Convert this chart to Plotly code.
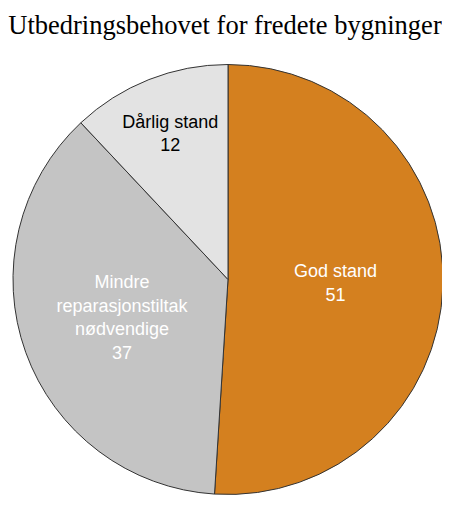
import plotly.graph_objects as go

# Utbedringsbehovet for fredete bygninger (prosent)
labels = ["God stand", "Mindre<br>reparasjonstiltak<br>nødvendige", "Dårlig stand"]
values = [51, 37, 12]
colors = ["#D4801F", "#C4C4C4", "#E3E3E3"]
text_colors = ["white", "white", "black"]

fig = go.Figure(data=[go.Pie(
    labels=labels,
    values=values,
    sort=False,
    direction="clockwise",
    rotation=0,
    marker=dict(colors=colors, line=dict(color="#333333", width=1)),
    texttemplate="%{label}<br>%{value}",
    textposition="inside",
    insidetextorientation="horizontal",
    insidetextfont=dict(family="Liberation Sans, Arial", size=18, color=text_colors),
    hovertemplate="%{label}: %{value}<extra></extra>",
    showlegend=False,
)])

# siden har 8px body-marg, så marger og tittel er justert for det
fig.update_layout(
    title=dict(
        text="Utbedringsbehovet for fredete bygninger",
        font=dict(family="Liberation Serif, Times New Roman", size=26.5, color="black"),
        x=217 / 450,
        xanchor="center",
        y=1 - 17 / 507,
        yanchor="middle",
    ),
    width=450,
    height=507,
    margin=dict(t=56, l=5, r=15, b=20),
    paper_bgcolor="white",
    plot_bgcolor="white",
    uniformtext=dict(minsize=18, mode="show"),
)

fig.write_html("out.html")
